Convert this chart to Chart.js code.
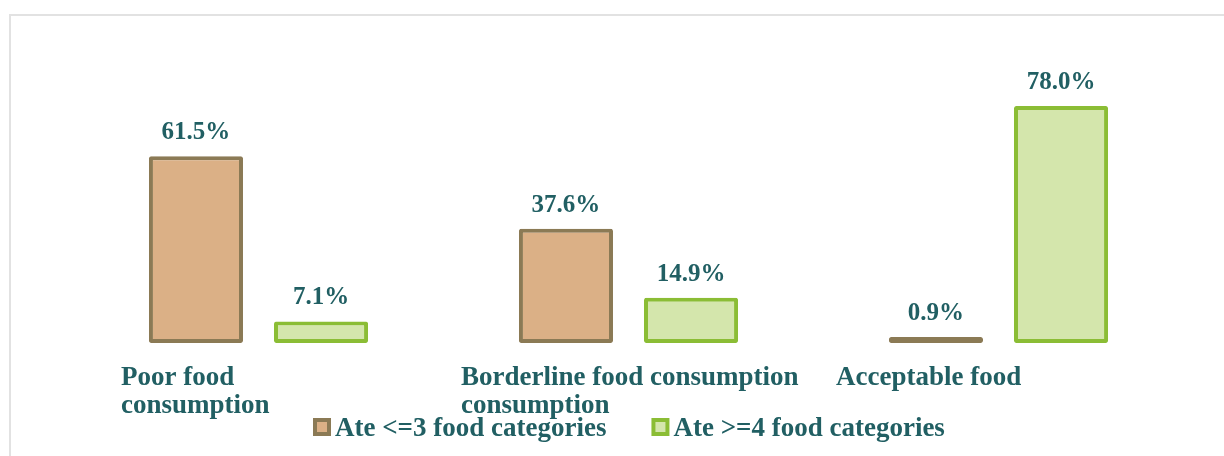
<!DOCTYPE html>
<html>
<head>
<meta charset="utf-8">
<script src="https://cdn.jsdelivr.net/npm/chart.js@4/dist/chart.umd.min.js"></script>
<style>
    html, body { margin: 0; padding: 0; background: #ffffff; overflow: hidden; }
    #wrap { position: relative; width: 1224px; height: 456px; }
    #frame { position: absolute; left: 9px; top: 14px; width: 1300px; height: 500px; border: 2px solid #e2e2e2; }
    #chart { position: absolute; left: 0; top: 0; }
</style>
</head>
<body>
<div id="wrap">
    <div id="frame"></div>
    <canvas id="chart" width="1224" height="456"></canvas>
</div>
<script>
// chart data
const categories = [
    ["Poor food", "consumption"],
    ["Borderline food consumption", "consumption"],
    ["Acceptable food"]
];
const seriesNames = ["Ate <=3 food categories", "Ate >=4 food categories"];
const ateLow = [61.5, 37.6, 0.9];
const ateHigh = [7.1, 14.9, 78.0];

const textColor = '#215f63';
const fontFamily = "'Liberation Serif', 'DejaVu Serif', serif";

// category labels, data labels and legend drawn on top of the scales
const labelsPlugin = {
    id: 'labelsPlugin',
    afterDatasetsDraw(chart, args, opts) {
        const ctx = chart.ctx;
        ctx.save();
        ctx.fillStyle = textColor;
        ctx.textBaseline = 'alphabetic';

        // value labels above each bar
        ctx.font = "bold 25px " + fontFamily;
        ctx.textAlign = 'center';
        chart.data.datasets.forEach((ds, di) => {
            chart.getDatasetMeta(di).data.forEach((bar, i) => {
                ctx.fillText(ds.data[i].toFixed(1) + '%', bar.x, bar.y - 17);
            });
        });

        // category labels, left aligned
        const xScale = chart.scales.x;
        ctx.font = "bold 27px " + fontFamily;
        ctx.textAlign = 'left';
        categories.forEach((lines, i) => {
            const x = xScale.getPixelForValue(i) + opts.offsets[i];
            lines.forEach((line, j) => {
                ctx.fillText(line, x, chart.chartArea.bottom + 42 + j * 28);
            });
        });

        // legend
        ctx.font = "bold 27px " + fontFamily;
        let lx = opts.legendX;
        const ly = opts.legendY;
        chart.data.datasets.forEach((ds, di) => {
            ctx.fillStyle = ds.borderColor;
            ctx.fillRect(lx, ly - 9, 18, 18);
            ctx.fillStyle = ds.backgroundColor;
            ctx.fillRect(lx + 4, ly - 5, 10, 10);
            ctx.fillStyle = textColor;
            ctx.fillText(ds.label, lx + 22, ly + 9);
            lx += 22 + ctx.measureText(ds.label).width + 45;
        });
        ctx.restore();
    }
};

const ctx = document.getElementById("chart").getContext("2d");
const myChart = new Chart(ctx, {
    type: 'bar',
    data: {
        labels: categories,
        datasets: [{
            label: seriesNames[0],
            data: ateLow,
            backgroundColor: '#dbb086',
            borderColor: '#8b7a55',
            borderWidth: 4,
            borderRadius: 2,
            borderSkipped: false,
            minBarLength: 6
        }, {
            label: seriesNames[1],
            data: ateHigh,
            backgroundColor: '#d4e6ac',
            borderColor: '#8bbd35',
            borderWidth: 4,
            borderRadius: 2,
            borderSkipped: false
        }]
    },
    options: {
        responsive: false,
        animation: false,
        events: [],
        layout: {
            padding: { left: 73.5, right: 40.5, top: 100, bottom: 113 }
        },
        categoryPercentage: 0.676,
        barPercentage: 0.752,
        plugins: {
            legend: { display: false },
            tooltip: { enabled: false },
            labelsPlugin: {
                offsets: [-137.5, -167.5, -162.5],
                legendX: 313,
                legendY: 427
            }
        },
        scales: {
            x: { display: false },
            y: { display: false, min: 0, max: 80 }
        }
    },
    plugins: [labelsPlugin]
});
</script>
</body>
</html>
